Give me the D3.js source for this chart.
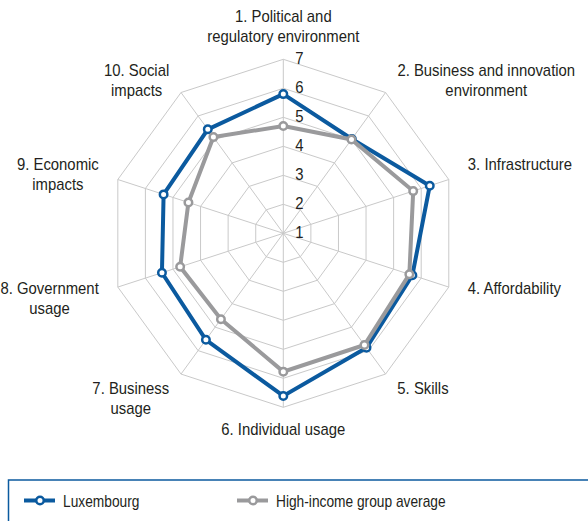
<!DOCTYPE html>
<html>
<head>
<meta charset="utf-8">
<script src="https://cdn.jsdelivr.net/npm/d3@7"></script>
<style>
  body { margin: 0; background: #fff; }
  text { font-family: "Liberation Sans Narrow", "Arial Narrow", "Liberation Sans", sans-serif; fill: #231f20; }
</style>
</head>
<body>
<div id="chart"></div>
<script>
// pillars, one line of label text per entry
var pillars = [
  ["1. Political and", "regulatory environment"],
  ["2. Business and innovation", "environment"],
  ["3. Infrastructure"],
  ["4. Affordability"],
  ["5. Skills"],
  ["6. Individual usage"],
  ["7. Business", "usage"],
  ["8. Government", "usage"],
  ["9. Economic", "impacts"],
  ["10. Social", "impacts"]
];
var luxembourg = [5.80, 5.02, 6.31, 5.68, 5.88, 6.61, 5.54, 5.40, 5.34, 5.43];
var highIncome = [4.70, 5.00, 5.71, 5.57, 5.76, 5.77, 4.66, 4.74, 4.44, 5.10];
var ticks = [1, 2, 3, 4, 5, 6, 7];
var seriesNames = ["Luxembourg", "High-income group average"];

var width = 588, height = 521;
var cx = 283.3, cy = 233.3, radius = 174;
var blue = "#0b5a9f", grey = "#9a9a9c", gridColor = "#c9c9c9";
var labelSquash = 0.93, legendSquash = 0.86; // condensed look of the original face

var svg = d3.select("#chart").append("svg")
  .attr("width", width)
  .attr("height", height);

var r = d3.scaleLinear().domain([1, 7]).range([0, radius]);
var angle = d3.scaleLinear().domain([0, pillars.length]).range([0, 2 * Math.PI]);

var g = svg.append("g").attr("transform", "translate(" + cx + "," + cy + ")");

// squashed text helper
function place(sel, x, y, k) {
  return sel.attr("transform", "translate(" + x + "," + y + ") scale(" + k + ",1)");
}

// grid rings (decagons)
var ring = d3.lineRadial()
  .angle(function(d, i) { return angle(i); })
  .radius(function(d) { return r(d); })
  .curve(d3.curveLinearClosed);

g.selectAll(".ring")
  .data(ticks.slice(1))
  .enter().append("path")
  .attr("d", function(t) { return ring(pillars.map(function() { return t; })); })
  .attr("fill", "none")
  .attr("stroke", gridColor)
  .attr("stroke-width", 1);

// spokes
g.selectAll(".spoke")
  .data(pillars)
  .enter().append("line")
  .attr("x1", 0).attr("y1", 0)
  .attr("x2", function(d, i) { return r(7) * Math.sin(angle(i)); })
  .attr("y2", function(d, i) { return -r(7) * Math.cos(angle(i)); })
  .attr("stroke", gridColor)
  .attr("stroke-width", 1);

// tick labels up the first spoke
g.selectAll(".tick")
  .data(ticks)
  .enter().append("text")
  .each(function(t) { place(d3.select(this), 12, -r(t) + 5, labelSquash); })
  .style("font-size", "16px")
  .text(function(t) { return t; });

// series
function drawSeries(values, color) {
  var line = d3.lineRadial()
    .angle(function(d, i) { return angle(i); })
    .radius(function(d) { return r(d); })
    .curve(d3.curveLinearClosed);

  g.append("path")
    .attr("d", line(values))
    .attr("fill", "none")
    .attr("stroke", color)
    .attr("stroke-width", 4)
    .attr("stroke-linejoin", "miter");

  g.append("g").selectAll("circle")
    .data(values)
    .enter().append("circle")
    .attr("cx", function(d, i) { return r(d) * Math.sin(angle(i)); })
    .attr("cy", function(d, i) { return -r(d) * Math.cos(angle(i)); })
    .attr("r", 3.75)
    .attr("fill", "#fff")
    .attr("stroke", color)
    .attr("stroke-width", 2.5);
}
drawSeries(luxembourg, blue);
drawSeries(highIncome, grey);

// pillar labels: block anchored outside the outer ring, lines centred in the block
var labelR = radius + 20, lineH = 20;
pillars.forEach(function(lines, i) {
  var a = angle(i), s = Math.sin(a), c = Math.cos(a);
  var px = labelR * s, py = -labelR * c;
  var lab = g.append("g");
  var texts = lines.map(function(l) {
    return lab.append("text").attr("text-anchor", "middle").style("font-size", "16px").text(l);
  });
  var maxW = labelSquash * d3.max(texts, function(t) { return t.node().getComputedTextLength(); });
  var mid = Math.abs(s) < 0.1 ? px : (s > 0 ? px + maxW / 2 : px - maxW / 2);
  var first;
  if (c > 0.9) first = py + 3 - (lines.length - 1) * lineH;
  else if (c < -0.9) first = py + 8;
  else first = py + (c > 0 ? (c > 0.5 ? 0 : -3) : (c < -0.5 ? 4 : 1));
  texts.forEach(function(t, k) {
    place(t, mid, first + k * lineH, labelSquash);
  });
});

// legend
var legend = svg.append("g");
legend.append("rect")
  .attr("x", 8.5).attr("y", 480)
  .attr("width", 620).attr("height", 80)
  .attr("fill", "none")
  .attr("stroke", blue)
  .attr("stroke-width", 1.5);

var legendX = [24, 237];
[blue, grey].forEach(function(color, i) {
  var x0 = legendX[i], y0 = 500.5;
  legend.append("line")
    .attr("x1", x0).attr("x2", x0 + 31)
    .attr("y1", y0).attr("y2", y0)
    .attr("stroke", color).attr("stroke-width", 4);
  legend.append("circle")
    .attr("cx", x0 + 16).attr("cy", y0).attr("r", 3.75)
    .attr("fill", "#fff").attr("stroke", color).attr("stroke-width", 2.5);
  place(legend.append("text"), x0 + 39, y0 + 6, legendSquash)
    .style("font-size", "16px")
    .text(seriesNames[i]);
});
</script>
</body>
</html>
